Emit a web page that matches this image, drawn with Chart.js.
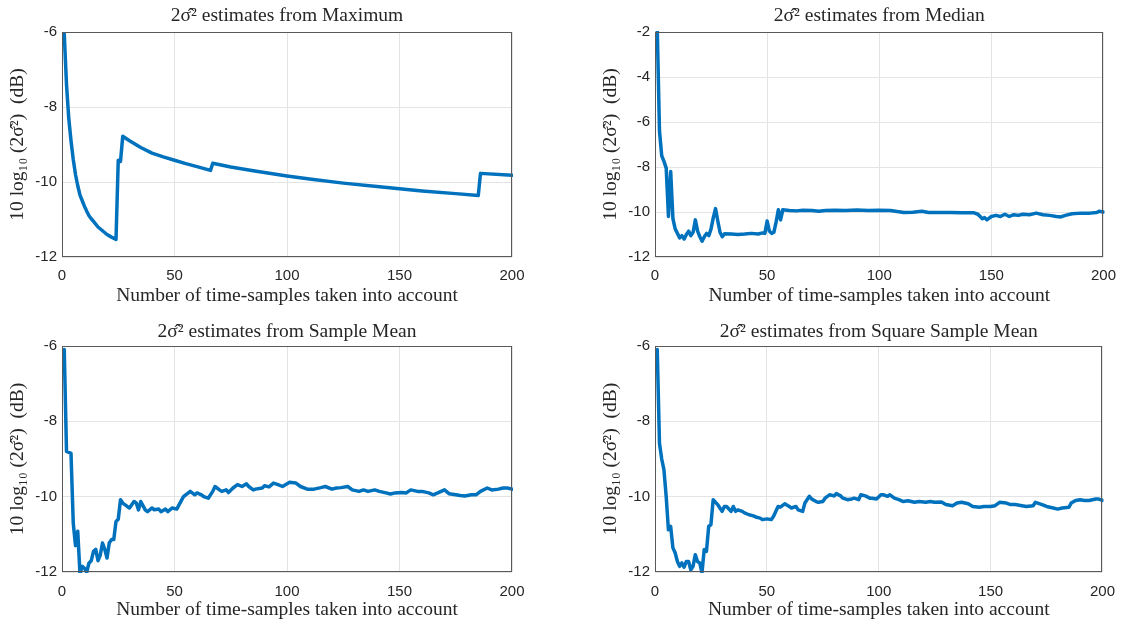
<!DOCTYPE html>
<html><head><meta charset="utf-8">
<script src="https://cdn.jsdelivr.net/npm/chart.js@4.4.1/dist/chart.umd.min.js"></script>
<style>
html,body{margin:0;padding:0;background:#fff;}
body{width:1126px;height:625px;position:relative;overflow:hidden;}
canvas{position:absolute;}
</style></head><body>
<canvas id="c1" width="563" height="313" style="left:0;top:0"></canvas>
<canvas id="c2" width="533" height="313" style="left:593px;top:0"></canvas>
<canvas id="c3" width="563" height="312" style="left:0;top:313px"></canvas>
<canvas id="c4" width="533" height="312" style="left:593px;top:313px"></canvas>
<script>
// ---- data ----
const titles = ['2σ̂² estimates from Maximum','2σ̂² estimates from Median','2σ̂² estimates from Sample Mean','2σ̂² estimates from Square Sample Mean'];
const xLabel = 'Number of time-samples taken into account';
const yLabel = '10 log₁₀ (2σ̂²)  (dB)';
const xTicks = [0,50,100,150,200];
const yTicksA = [-12,-10,-8,-6];
const yTicksB = [-12,-10,-8,-6,-4,-2];

const maxX = [1,2,3,4,5,6,7,8,9,10,11,12,13,14,16,18,20,22,24,25,26,27,30,35,40,45,50,55,60,66,67,75,85,100,110,125,140,150,160,175,185,186,200];
const maxY = [-6.05,-7.4,-8.3,-8.9,-9.4,-9.8,-10.1,-10.35,-10.5,-10.65,-10.78,-10.9,-10.98,-11.05,-11.2,-11.3,-11.4,-11.47,-11.53,-9.42,-9.45,-8.78,-8.9,-9.08,-9.23,-9.33,-9.42,-9.51,-9.59,-9.69,-9.5,-9.6,-9.7,-9.84,-9.92,-10.03,-10.12,-10.18,-10.24,-10.31,-10.36,-9.77,-9.82];

const medX = [1,2,3,4,5,6,7,8,9,10,11,12,13,14,15,16,17,18,19,20,21,22,23,24,25,26,27,28,29,30,31,34,37,40,43,46,48,49,50,51,52,53,54,55,56,57,60,63,66,70,73,76,80,85,90,95,100,105,108,111,115,119,122,127,132,137,142,144,146,147,148,150,152,154,156,158,160,162,164,167,170,173,176,179,181,183,186,190,194,197,198,200];
const medY = [-1.8,-6.4,-7.5,-7.75,-8.05,-10.2,-8.2,-10.3,-10.75,-10.95,-11.15,-11.05,-11.2,-11.0,-10.85,-11.05,-10.9,-10.35,-10.85,-11.1,-11.3,-11.1,-10.95,-11.05,-10.75,-10.25,-9.85,-10.4,-10.9,-11.1,-10.97,-10.98,-11.0,-10.98,-10.95,-10.98,-10.93,-10.95,-10.4,-10.85,-10.95,-10.9,-10.45,-9.9,-10.35,-9.9,-9.93,-9.95,-9.92,-9.93,-9.97,-9.93,-9.92,-9.93,-9.91,-9.93,-9.92,-9.93,-9.98,-10.02,-10.01,-9.97,-10.02,-10.02,-10.02,-10.03,-10.03,-10.1,-10.3,-10.25,-10.35,-10.2,-10.15,-10.2,-10.1,-10.2,-10.12,-10.15,-10.1,-10.12,-10.05,-10.12,-10.15,-10.2,-10.22,-10.15,-10.08,-10.05,-10.05,-10.02,-9.97,-10.0];

const meanX = [1,2,4,5,6,7,8,9,10,11,12,13,14,15,16,17,18,19,20,21,22,23,24,25,26,27,29,30,32,33,34,35,37,38,40,41,43,44,46,47,49,51,52,54,55,57,59,60,62,63,65,67,68,70,71,73,74,76,78,80,82,83,85,86,89,90,92,94,96,98,100,101,104,106,109,112,115,117,120,122,124,127,129,132,134,136,139,141,144,146,148,151,153,155,158,160,163,165,167,170,172,175,177,179,182,184,186,189,191,194,196,198,200];
const meanY = [-6.09,-8.8,-8.85,-10.7,-11.3,-10.92,-12.05,-11.85,-11.9,-12.0,-11.76,-11.7,-11.45,-11.4,-11.7,-11.55,-11.23,-11.4,-11.63,-11.23,-11.14,-11.14,-10.66,-10.6,-10.08,-10.17,-10.26,-10.3,-10.13,-10.17,-10.35,-10.13,-10.35,-10.4,-10.3,-10.35,-10.33,-10.4,-10.33,-10.4,-10.3,-10.33,-10.22,-10.0,-9.95,-9.86,-9.95,-9.9,-9.95,-10.0,-10.04,-9.86,-9.73,-9.82,-9.86,-9.82,-9.89,-9.77,-9.68,-9.73,-9.66,-9.73,-9.82,-9.8,-9.77,-9.71,-9.74,-9.64,-9.68,-9.73,-9.66,-9.62,-9.64,-9.73,-9.8,-9.8,-9.76,-9.73,-9.8,-9.77,-9.76,-9.73,-9.82,-9.86,-9.82,-9.86,-9.82,-9.86,-9.9,-9.93,-9.9,-9.89,-9.9,-9.82,-9.86,-9.86,-9.9,-9.95,-9.9,-9.82,-9.92,-9.95,-9.97,-9.98,-9.95,-9.95,-9.86,-9.77,-9.82,-9.8,-9.77,-9.77,-9.8];

const sqX = [1,2,3,4,5,6,7,8,9,10,11,12,13,14,15,16,17,18,19,20,21,22,23,24,25,26,28,29,30,31,32,34,35,36,37,39,40,42,44,45,47,48,50,52,53,55,56,58,60,61,63,64,66,67,69,70,72,73,75,76,78,80,81,83,84,86,88,89,91,92,94,96,97,99,101,102,104,105,107,109,111,113,116,118,121,123,125,128,130,133,135,137,140,142,145,147,150,152,154,157,159,161,164,166,169,170,173,175,178,180,182,185,186,188,190,192,194,197,198,200];
const sqY = [-6.09,-8.58,-9.0,-9.29,-10.0,-10.88,-10.79,-11.36,-11.49,-11.72,-11.85,-11.76,-11.87,-11.72,-11.72,-11.94,-11.85,-11.54,-11.72,-11.76,-12.02,-11.4,-11.45,-10.79,-10.74,-10.08,-10.21,-10.3,-10.39,-10.26,-10.26,-10.39,-10.26,-10.39,-10.35,-10.39,-10.43,-10.48,-10.51,-10.54,-10.57,-10.61,-10.59,-10.61,-10.52,-10.26,-10.28,-10.19,-10.26,-10.3,-10.26,-10.35,-10.39,-10.17,-9.99,-10.06,-10.13,-10.15,-10.13,-10.04,-9.95,-9.98,-9.92,-9.98,-10.04,-10.08,-10.06,-10.04,-10.08,-9.95,-9.98,-10.04,-10.04,-10.06,-9.95,-9.95,-9.99,-9.95,-10.04,-10.08,-10.13,-10.11,-10.15,-10.13,-10.15,-10.13,-10.15,-10.14,-10.21,-10.24,-10.17,-10.15,-10.19,-10.26,-10.28,-10.26,-10.26,-10.24,-10.15,-10.17,-10.21,-10.21,-10.24,-10.26,-10.24,-10.15,-10.21,-10.26,-10.3,-10.33,-10.3,-10.28,-10.17,-10.1,-10.08,-10.1,-10.1,-10.06,-10.06,-10.1];

// ---- styling ----
const SERIF = '"Liberation Serif","DejaVu Serif",serif';
const SANS = '"Liberation Sans",Arial,sans-serif';
const TXT = '#262626';
const GRID = '#e4e4e4';
const LINE = '#0072BD';
const SERIF_SIZE = 19.5;

const framePlugin = {
  id: 'frame',
  afterDatasetsDraw(chart) {
    const {ctx, chartArea: a} = chart;
    ctx.save();
    ctx.strokeStyle = '#595959';
    ctx.lineWidth = 1;
    ctx.strokeRect(Math.round(a.left) + 0.5, Math.round(a.top) + 0.5, Math.round(a.right - a.left) - 1, Math.round(a.bottom - a.top) - 1);
    ctx.restore();
  }
};

function makeChart(id, title, xs, ys, yTicks, c) {
  const pts = xs.map((x, i) => ({x: x, y: ys[i]}));
  return new Chart(document.getElementById(id), {
    type: 'line',
    data: {datasets: [{data: pts, borderColor: LINE, borderWidth: 3.5, pointRadius: 0,
      fill: false, tension: 0, borderJoinStyle: 'round', borderCapStyle: 'round', clip: 1}]},
    options: {
      responsive: false, animation: false, devicePixelRatio: 1,
      layout: {padding: {left: 0, right: c.padRight, top: 0, bottom: 0}},
      plugins: {
        legend: {display: false}, tooltip: {enabled: false},
        title: {display: true, text: title, fullSize: false, color: TXT,
          font: {family: SERIF, size: SERIF_SIZE, weight: 'normal', lineHeight: 1.2},
          padding: {top: c.tTop, bottom: c.tBot}}
      },
      scales: {
        x: {type: 'linear', min: xTicks[0], max: xTicks[xTicks.length - 1],
          afterBuildTicks: s => { s.ticks = xTicks.map(v => ({value: v})); },
          ticks: {color: TXT, font: {family: SANS, size: 15}, padding: c.xPad, maxRotation: 0},
          grid: {color: GRID, lineWidth: 1, drawTicks: false},
          border: {display: false},
          title: {display: true, text: xLabel, color: TXT,
            font: {family: SERIF, size: SERIF_SIZE, lineHeight: 1.2}, padding: {top: 0, bottom: c.xtBot}},
          afterFit: s => { s.height = c.xH; }
        },
        y: {type: 'linear', min: yTicks[0], max: yTicks[yTicks.length - 1],
          afterBuildTicks: s => { s.ticks = yTicks.map(v => ({value: v})); },
          ticks: {color: TXT, font: {family: SANS, size: 15}, padding: 5,
            callback: v => String(v)},
          grid: {color: GRID, lineWidth: 1, drawTicks: false},
          border: {display: false},
          title: {display: true, text: yLabel, color: TXT,
            font: {family: SERIF, size: SERIF_SIZE, lineHeight: 1.2}, padding: {top: 6.3, bottom: 0}},
          afterFit: s => { s.width = 62; }
        }
      }
    },
    plugins: [framePlugin]
  });
}

const topCfgL = {padRight: 51, tTop: 4.5, tBot: 4.1, xPad: 10, xtBot: 5.3, xH: 56};
const topCfgR = {padRight: 21, tTop: 4.5, tBot: 4.1, xPad: 10, xtBot: 5.3, xH: 56};
const botCfgL = {padRight: 51, tTop: 7.3, tBot: 2.3, xPad: 11, xtBot: 3.3, xH: 53};
const botCfgR = {padRight: 21, tTop: 7.3, tBot: 2.3, xPad: 11, xtBot: 3.3, xH: 53};

makeChart('c1', titles[0], maxX, maxY, yTicksA, topCfgL);
makeChart('c2', titles[1], medX, medY, yTicksB, topCfgR);
makeChart('c3', titles[2], meanX, meanY, yTicksA, botCfgL);
makeChart('c4', titles[3], sqX, sqY, yTicksA, botCfgR);
</script>
</body></html>
